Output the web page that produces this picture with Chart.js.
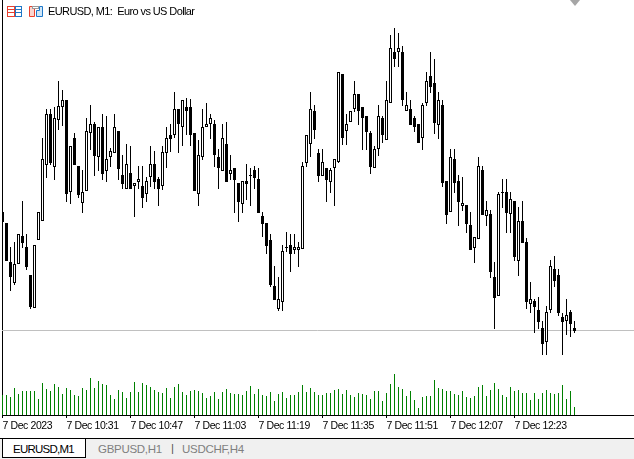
<!DOCTYPE html>
<html>
<head>
<meta charset="utf-8">
<title>EURUSD, M1</title>
<script src="https://cdn.jsdelivr.net/npm/chart.js@4"></script>
<style>
    html, body { margin: 0; padding: 0; background: #fff; overflow: hidden; }
    #wrap { position: relative; width: 634px; height: 459px; font-family: "Liberation Sans", sans-serif; font-size: 11px; color: #000; }
    #chart { position: absolute; left: 0; top: 0; }
    #caption { position: absolute; left: 48px; top: 5px; white-space: pre; line-height: 13px; font-size: 11px; letter-spacing: -0.6px; }
    #icons { position: absolute; left: 7px; top: 6px; }
    #shift { position: absolute; left: 0; top: 0; }
    #tabs { position: absolute; left: 0; top: 438px; width: 634px; height: 21px; background: #f0f0f0; border-top: 1px solid #000; box-sizing: border-box; }
    #tabs div { position: absolute; top: 3px; line-height: 14px; font-size: 11.5px; letter-spacing: -0.3px; color: #7f7f7f; }
    #tabs #active { left: 2px; top: -1px; width: 84px; height: 20px; box-sizing: border-box; background: #fff; border: 1px solid #000; color: #000; padding: 3px 0 0 10px; letter-spacing: -0.75px; }
</style>
</head>
<body>
<div id="wrap">
    <canvas id="chart" width="634" height="437"></canvas>
    <svg id="shift" width="634" height="8"><polygon points="570,0 580,0 575,6" fill="#a6a6a6"/></svg>
    <svg id="icons" width="38" height="12" fill="none" stroke-width="1">
        <rect x="0.5" y="0.5" width="7" height="10" stroke="#e8402e"/>
        <path d="M1 3.5h7M1 6.5h7" stroke="#e8402e"/>
        <rect x="8.5" y="0.5" width="6" height="10" stroke="#1f78c8"/>
        <path d="M9 3.5h6M9 6.5h6" stroke="#1f78c8"/>
        <path d="M22.5 0.5h5v10h-5z" stroke="#e8402e" fill="#fbd5cf"/>
        <path d="M29.5 10.5v-6h3v-4h3v10z" stroke="#1f78c8" fill="#cfe6f8"/>
        <rect x="25.5" y="0.5" width="6" height="2" stroke="#9a9a9a" fill="#fff"/>
    </svg>
    <div id="caption">EURUSD, M1:  Euro vs US Dollar</div>
    <div id="tabs">
        <div id="active">EURUSD,M1</div>
        <div style="left:98px">GBPUSD,H1</div>
        <div style="left:171px;top:2px;color:#555">|</div>
        <div style="left:182px">USDCHF,H4</div>
    </div>
</div>
<script>
"use strict";

// prices in points above 1.07000, one bar per minute from 10:15
const opens = [788,777,738,717,736,764,753,725,692,760,
    779,835,886,833,880,893,900,808,862,834,
    797,809,867,876,843,873,829,843,847,869,
    825,811,827,814,818,814,806,823,836,821,
    814,847,865,865,891,873,893,893,867,806,
    843,873,876,876,843,829,856,826,832,817,
    796,819,825,830,821,784,777,760,714,691,
    698,753,755,750,750,751,837,856,889,847,
    824,832,818,832,838,926,869,878,891,906,
    893,884,867,832,851,882,860,897,948,948,
    948,889,891,882,876,862,897,924,917,875,
    895,819,788,841,819,794,795,775,752,761,
    830,784,786,723,704,808,808,786,799,739,
    779,758,696,699,690,672,658,690,731,725,
    683,679,688,672];
const highs = [788,777,753,758,766,799,766,725,755,788,
    862,891,891,893,919,910,900,854,867,834,
    830,882,895,878,873,886,884,852,886,869,
    845,856,854,817,834,834,823,854,849,823,
    854,873,876,908,891,900,902,901,867,860,
    891,897,886,880,851,876,878,845,832,817,
    819,836,832,834,832,788,777,766,734,723,
    755,768,766,766,758,838,865,908,895,851,
    851,832,832,841,928,926,886,889,919,906,
    893,884,869,854,895,884,919,965,972,967,
    954,908,900,884,876,897,928,948,941,908,
    900,819,851,851,825,823,795,788,763,843,
    834,799,790,738,808,821,821,808,799,793,
    799,762,718,701,703,679,694,740,744,731,
    687,701,690,679];
const lows = [778,739,709,715,736,752,730,691,692,760,
    779,822,835,820,870,874,798,796,835,802,
    787,809,850,824,829,820,818,833,847,820,
    811,811,811,783,811,792,798,813,811,794,
    810,832,848,862,847,854,865,854,809,794,
    840,873,861,833,811,829,818,820,787,778,
    787,800,794,811,787,763,746,713,700,689,
    689,748,728,746,733,751,833,843,861,818,
    824,798,807,794,837,855,855,878,888,875,
    850,850,826,832,844,857,860,897,933,933,
    894,889,875,868,857,850,894,907,866,861,
    813,776,788,807,774,789,767,750,737,761,
    785,774,722,671,704,792,767,767,739,724,
    757,691,687,667,671,645,645,687,713,684,
    645,665,663,667];
const closes = [778,739,723,736,766,757,733,693,755,788,
    841,886,837,882,894,900,806,854,835,805,
    808,869,876,844,873,826,841,849,873,831,
    816,836,811,817,821,802,819,836,818,811,
    848,862,861,891,876,900,889,865,809,845,
    873,876,882,845,832,862,818,830,820,798,
    819,816,824,822,787,776,754,715,700,701,
    749,752,746,753,753,834,865,891,870,824,
    838,820,830,841,928,862,876,889,906,889,
    882,868,833,851,884,865,900,952,941,952,
    900,895,875,873,857,895,919,913,877,900,
    817,785,843,817,798,797,776,750,763,834,
    785,790,728,702,806,807,787,801,743,779,
    757,698,701,693,678,656,688,734,719,687,
    678,685,676,669];
const volumes = [20,20,18,27,21,24,24,24,24,16,
    32,26,24,31,28,21,27,25,20,19,
    27,25,37,27,34,31,30,20,16,25,
    23,17,23,33,23,32,30,28,25,23,
    22,27,17,28,31,23,20,24,25,24,
    22,17,19,23,16,23,26,22,21,21,
    20,24,29,21,26,20,19,23,14,21,
    23,17,20,20,23,30,23,27,23,20,
    20,22,22,25,26,21,25,20,18,22,
    21,20,16,24,24,14,22,31,41,28,
    26,19,24,15,7,18,19,19,35,27,
    26,24,24,21,20,24,18,17,19,28,
    30,19,25,32,26,20,18,28,24,25,
    22,22,15,22,16,22,25,22,21,22,
    30,16,24,8];
const tickLabels = ["7 Dec 2023", "7 Dec 10:31", "7 Dec 10:47", "7 Dec 11:03", "7 Dec 11:19",
    "7 Dec 11:35", "7 Dec 11:51", "7 Dec 12:07", "7 Dec 12:23"];
const barsPerTick = 16;
const bidPrice = 669.5;
const barsInView = 158;

const wicks = lows.map(function(low, i) {
    return { x: i, y: [low, highs[i]] };
});
const bodies = opens.map(function(open, i) {
    return { x: i, y: [Math.min(open, closes[i]), Math.max(open, closes[i])] };
});
const volumeBars = volumes.map(function(v, i) {
    return { x: i, y: v };
});

new Chart(document.getElementById("chart"), {
    type: "bar",
    data: {
        datasets: [ {
            label: "Body",
            data: bodies,
            barThickness: 3,
            borderWidth: 1,
            borderSkipped: false,
            borderColor: "#000",
            backgroundColor: opens.map(function(open, i) {
                return closes[i] < open ? "#000" : "#fff";
            }),
            yAxisID: "y"
        }, {
            label: "Wick",
            data: wicks,
            barThickness: 1,
            backgroundColor: "#000",
            yAxisID: "y"
        }, {
            label: "Volume",
            data: volumeBars,
            barThickness: 1,
            backgroundColor: "#008000",
            yAxisID: "volume"
        }, {
            type: "line",
            label: "Bid",
            data: [ { x: -1, y: bidPrice }, { x: barsInView, y: bidPrice } ],
            borderColor: "#c0c0c0",
            borderWidth: 1,
            pointRadius: 0,
            yAxisID: "y"
        } ]
    },
    plugins: [ {
        id: "tightlabels",
        beforeDraw: function(chart) {
            chart.ctx.letterSpacing = "-0.4px";
        }
    } ],
    options: {
        responsive: false,
        animation: false,
        layout: { padding: { left: 2 } },
        // no inflating, or the 1px bars smear over the next pixel
        datasets: { bar: { grouped: false, inflateAmount: 0 } },
        plugins: {
            legend: { display: false },
            title: { display: false },
            tooltip: { enabled: false }
        },
        scales: {
            x: {
                type: "linear",
                offset: false,
                min: -0.125,
                max: barsInView - 0.125,
                afterBuildTicks: function(axis) {
                    axis.ticks = tickLabels.map(function(label, i) {
                        return { value: i * barsPerTick };
                    });
                },
                afterFit: function(axis) {
                    axis.height = 22;
                },
                grid: { offset: false, drawOnChartArea: false, tickLength: 3, tickColor: "#000" },
                border: { color: "#000" },
                ticks: {
                    autoSkip: false,
                    maxRotation: 0,
                    align: "start",
                    padding: 2,
                    color: "#000",
                    font: { family: "Liberation Sans", size: 10.5 },
                    callback: function(value, index) {
                        return tickLabels[index];
                    }
                }
            },
            y: {
                min: 585,
                max: 1000,
                afterFit: function(axis) {
                    axis.width = 0;
                },
                ticks: { display: false },
                grid: { drawOnChartArea: false, drawTicks: false },
                border: { color: "#000" }
            },
            volume: {
                display: false,
                min: 0,
                max: 415
            }
        }
    }
});
</script>
</body>
</html>
